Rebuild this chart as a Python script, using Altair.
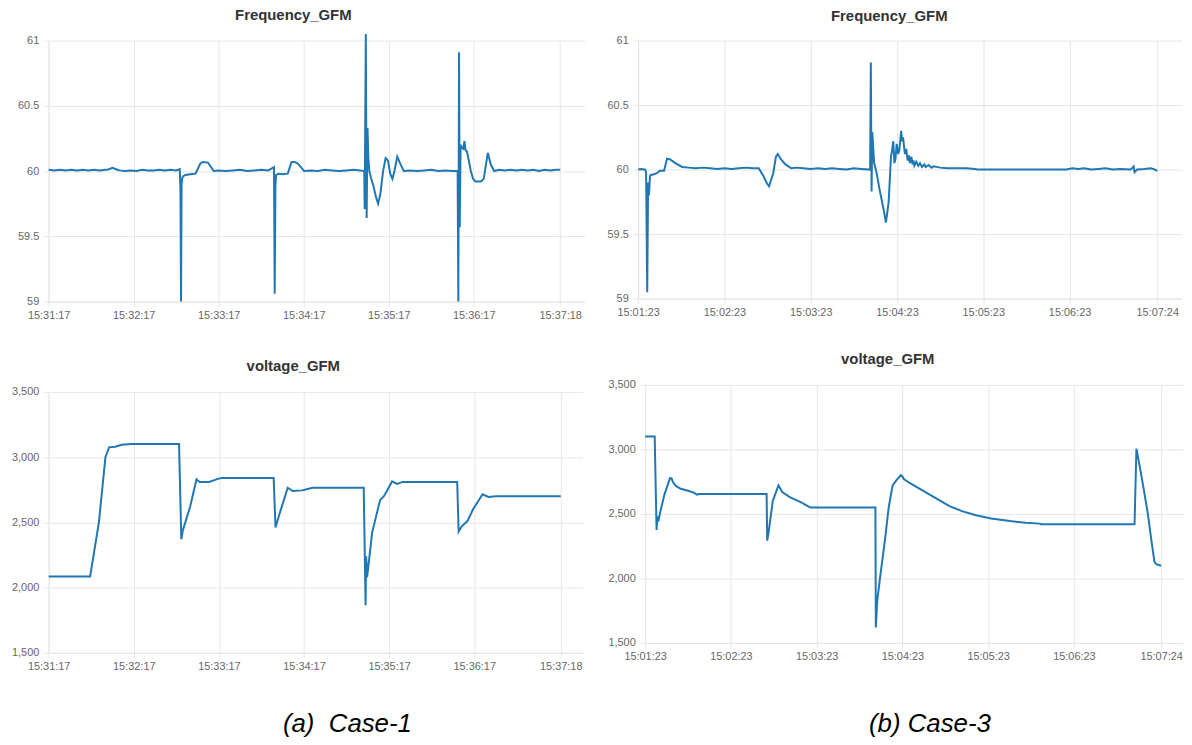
import altair as alt
import pandas as pd

# ---------------- tick labels ----------------
TICK_T = [0, 60, 120, 180, 240, 300, 361]
LABELS_CASE1 = ["15:31:17", "15:32:17", "15:33:17", "15:34:17", "15:35:17", "15:36:17", "15:37:18"]
LABELS_CASE3 = ["15:01:23", "15:02:23", "15:03:23", "15:04:23", "15:05:23", "15:06:23", "15:07:24"]
FREQ_TICKS = [59, 59.5, 60, 60.5, 61]
VOLT_TICKS = [1500, 2000, 2500, 3000, 3500]

# ---------------- Case-1 frequency (seconds from 15:31:17) ----------------
c1f_t = [0, 4, 8, 12, 16, 20, 24, 28, 32, 36, 40, 42, 45, 48, 50, 54, 58, 62, 66, 70, 74, 78, 82, 86, 90,
         92.5, 93.0, 93.4, 93.8, 94.3, 95.0, 96.4, 100, 103.6, 107.1, 109, 112.4, 116.4,
         120, 125, 130, 135, 140, 145, 150, 155,
         159.0, 159.5, 160.0, 160.5, 162.3, 165, 168.7, 171.4, 173.5, 175.6, 178, 180.2,
         185, 190, 195, 200, 205, 210, 215, 220,
         222.7, 223.0, 223.8, 224.4, 225.0, 225.6, 226.3, 227.4, 229.3, 231, 232.5, 234, 236, 237.8,
         239.5, 241, 242.6, 244, 246.0, 248, 250.6,
         255, 260, 265, 270, 275, 280, 285,
         288.6, 289.1, 289.6, 290.1, 290.7, 291.5, 292.6, 293.4, 294.2, 295.2, 296.5, 297.9, 299.5,
         301.1, 305.1, 307.0, 309.9, 312, 314.4,
         318, 322, 326, 330, 334, 338, 342, 346, 350, 354, 358, 361]
c1f_v = [60.01, 60.005, 60.01, 60.005, 60.01, 60.005, 60.01, 60.005, 60.01, 60.005, 60.01, 60.012, 60.025, 60.012,
         60.005, 60.0, 60.005, 60.0, 60.01, 60.005, 60.005, 60.01, 60.005, 60.01, 60.005,
         60.015, 59.85, 59.0, 59.9, 59.95, 59.96, 59.97, 59.975, 59.98, 60.06, 60.07, 60.065, 60.0,
         60.005, 60.0, 60.005, 60.01, 60.0, 60.005, 60.01, 60.005,
         60.03, 59.06, 59.88, 59.97, 59.98, 59.975, 59.98, 60.07, 60.07, 60.06, 60.03, 60.0,
         60.005, 60.0, 60.01, 60.005, 60.0, 60.005, 60.01, 60.005,
         60.0, 59.71, 61.05, 59.64, 60.33, 60.1, 60.0, 59.95, 59.88, 59.8, 59.75, 59.82, 60.0, 60.1,
         60.08, 59.98, 59.94, 60.0, 60.11, 60.06, 60.0,
         60.005, 60.0, 60.005, 60.01, 60.0, 60.005, 60.0,
         60.0, 59.0, 60.91, 59.57, 60.2, 60.18, 60.17, 60.23, 60.16, 60.15, 60.08, 60.0, 59.94,
         59.92, 59.92, 59.94, 60.14, 60.05, 60.0,
         60.01, 60.005, 60.01, 60.005, 60.01, 60.005, 60.01, 60.0, 60.01, 60.005, 60.01, 60.01]

# ---------------- Case-3 frequency (seconds from 15:01:23) ----------------
c3f_t = [0, 2, 4.8, 5.5, 6.3, 6.9, 7.5, 8.2, 9.0, 10.0, 12.6, 15, 18.0, 20.1, 22, 25.8, 30.6,
         35, 40, 45, 50, 55, 60, 65, 70, 75, 80, 83.9, 86.0, 87.1, 89.2, 91.0, 93.9, 95.8, 97.1, 99.2,
         102.4, 106.4, 110, 115, 120, 125, 130, 135, 140, 145, 150, 155,
         161.3, 161.8, 162.3, 162.8, 164.1, 165.7, 167.8, 170.5, 172.3, 174.2, 175.8, 176.6, 177.4,
         178.2, 178.9, 179.8, 180.8, 181.6, 182.9, 183.5, 184.2, 185.5, 186.4, 187.4, 188.2, 189.0,
         190.0, 190.8, 191.5, 192.1, 193.4, 194.8, 196, 197.4, 199, 200.0, 202, 204.0, 205.3, 210,
         215, 221.1, 228, 234.3, 236, 250, 270, 297.7, 302, 306, 310, 315, 320, 325, 330, 335,
         342.5, 344.6, 345.2, 347, 352, 356, 358.3, 361]
c3f_v = [60.0, 60.005, 60.0, 59.98, 59.05, 59.9, 59.8, 59.95, 59.96, 59.96, 59.97, 59.99, 59.99, 60.085,
         60.08, 60.05, 60.02,
         60.015, 60.01, 60.015, 60.01, 60.005, 60.01, 60.005, 60.01, 60.015, 60.01, 60.01, 59.97, 59.95,
         59.9, 59.87, 59.97, 60.1, 60.12, 60.08,
         60.04, 60.01, 60.015, 60.01, 60.005, 60.01, 60.005, 60.01, 60.005, 60.0, 60.01, 60.005,
         60.0, 60.83, 59.83, 60.29, 60.05, 59.98, 59.85, 59.7, 59.59, 59.75, 60.1, 60.15, 60.22,
         60.05, 60.08, 60.2, 60.12, 60.15, 60.3, 60.22, 60.25, 60.12, 60.16, 60.07, 60.11, 60.05,
         60.1, 60.04, 60.07, 60.03, 60.06, 60.03, 60.05, 60.02, 60.04, 60.02, 60.035, 60.015, 60.025, 60.015,
         60.01, 60.01, 60.01, 60.005, 60.0, 60.0, 60.0, 60.0, 60.01, 60.005, 60.01, 60.0, 60.005, 60.01, 60.0, 60.005,
         60.0, 60.025, 59.98, 60.0, 60.005, 60.01, 60.005, 59.99]

# ---------------- Case-1 voltage ----------------
c1v_t = [0, 29.2, 35.4, 40.0, 42.6, 46.9, 51.5, 58.2, 91.9, 93.5, 94.6, 99.7, 104.2, 106.4, 113.1,
         119.8, 122, 158.6, 159.9, 162.6, 168.5, 172.0, 178.7, 184.0, 186, 222.1, 223.4, 223.8,
         224.5, 228, 233.6, 236.3, 238.9, 242.1, 245.6, 249.6, 288.0, 289.0, 291.2, 295.2, 299.2,
         305.9, 309.9, 315.3, 361]
c1v_v = [2085, 2085, 2500, 3000, 3075, 3080, 3095, 3100, 3100, 2370, 2440, 2620, 2830, 2810, 2810,
         2835, 2840, 2840, 2460, 2560, 2765, 2740, 2745, 2760, 2765, 2765, 1865, 2240,
         2080, 2420, 2670, 2700, 2750, 2815, 2795, 2810, 2810, 2430, 2470, 2510, 2600,
         2715, 2695, 2700, 2700]

# ---------------- Case-3 voltage ----------------
c3v_t = [0, 6.7, 8.0, 8.6, 9.2, 10.7, 13.5, 17.4, 18.5, 19.5, 21.7, 25, 30, 34, 36.3, 37.8, 85.0, 85.4,
         86.4, 89.3, 93.3, 95.9, 101.2, 109.2, 114.7, 116, 161.1, 161.4, 162.4, 164.3, 167.8, 170.4,
         173.1, 175.7, 178.9, 180, 181, 185, 194.3, 203.6, 212.9, 222.2, 231.5, 242, 255.3, 266,
         276, 277, 342.4, 343.7, 345.5, 348.7, 351.7, 354.1, 356.3, 357.6, 360.3, 361]
c3v_v = [3100, 3100, 2375, 2480, 2440, 2520, 2650, 2777, 2775, 2745, 2715, 2695, 2680, 2665, 2650, 2655, 2655, 2293,
         2360, 2600, 2722, 2670, 2630, 2590, 2555, 2550, 2550, 1620, 1830, 2000, 2300, 2550,
         2720, 2760, 2800, 2790, 2770, 2740, 2680, 2620, 2560, 2520, 2490, 2465, 2445, 2432,
         2425, 2420, 2420, 3005, 2900, 2700, 2500, 2300, 2130, 2110, 2100, 2100]

FONT = "Liberation Sans"
GRID = "#e6e6e6"
LABEL = "#666666"
BLUE = "#1f77b4"


def label_expr(labels):
    arr = "[" + ",".join("'%s'" % s for s in labels) + "]"
    vals = "[" + ",".join(str(v) for v in TICK_T) + "]"
    return "%s[indexof(%s, datum.value)]" % (arr, vals)


def panel(t, v, labels, ydom, yticks, yfmt, title, w, h, toff, tdy, tdx, xmax,
          caption=None, cap_x=0, cap_y=0, lead=0):
    df = pd.DataFrame({"t": t, "v": v})
    xkw = dict(values=TICK_T, labelExpr=label_expr(labels), grid=True, gridColor=GRID,
               domainColor=GRID, tickColor=GRID, tickSize=5, labelPadding=3,
               labelFont=FONT, labelFontSize=11, labelColor=LABEL, labelFlush=False,
               labelOverlap=False)
    if caption:
        xkw.update(title=caption, titleX=cap_x, titleY=cap_y, titleAlign="center",
                   titleBaseline="alphabetic", titleFont=FONT, titleFontSize=26,
                   titleFontStyle="italic", titleFontWeight="normal", titleColor="#000000")
    else:
        xkw.update(title=None)
    ykw = dict(values=yticks, format=yfmt, title=None, grid=True, gridColor=GRID,
               domainColor=GRID, tickColor=GRID, tickSize=5, labelPadding=5,
               labelFont=FONT, labelFontSize=11, labelColor=LABEL, labelFlush=False)
    tkw = dict(fontSize=15, font=FONT, fontWeight="bold", color="#333333", anchor="middle",
               frame="group", dx=tdx, dy=tdy, offset=toff, baseline="bottom")
    if lead:
        # an empty leading line gives this title a little extra head-room in the layout
        tkw.update(text=["", title], lineHeight=lead)
    else:
        tkw.update(text=title)
    return (
        alt.Chart(df)
        .mark_line(color=BLUE, strokeWidth=2)
        .encode(
            x=alt.X("t:Q", scale=alt.Scale(domain=[0, xmax], nice=False, zero=False),
                    axis=alt.Axis(**xkw)),
            y=alt.Y("v:Q", scale=alt.Scale(domain=ydom, nice=False, zero=False),
                    axis=alt.Axis(**ykw)),
        )
        .properties(width=w, height=h, title=alt.TitleParams(**tkw))
    )


tl = panel(c1f_t, c1f_v, LABELS_CASE1, [59, 61], FREQ_TICKS, "~g", "Frequency_GFM",
           540, 263, 18, 26, -23.5, 378.2, lead=2)
tr = panel(c3f_t, c3f_v, LABELS_CASE3, [59, 61], FREQ_TICKS, "~g", "Frequency_GFM",
           548, 260, 15, 19, -21, 378.2)
bl = panel(c1v_t, c1v_v, LABELS_CASE1, [1500, 3500], VOLT_TICKS, ",.0f", "voltage_GFM",
           538, 263, 20, 23, -22.5, 376.4,
           caption="(a)\u00a0 Case-1", cap_x=300.5, cap_y=79.5, lead=7)
br = panel(c3v_t, c3v_v, LABELS_CASE3, [1500, 3500], VOLT_TICKS, ",.0f", "voltage_GFM",
           542, 260, 13, 15.5, -26.5, 376.3,
           caption="(b) Case-3", cap_x=286.5, cap_y=89.5)

chart = (
    alt.concat(tl, tr, bl, br, columns=2, align="none", spacing={"row": 30, "column": 21})
    .properties(padding={"left": 2, "top": -6, "right": 0, "bottom": 0}, background="white")
    .configure_view(stroke="transparent")
)

chart.save("out.html", embed_options={"renderer": "svg", "actions": False})
